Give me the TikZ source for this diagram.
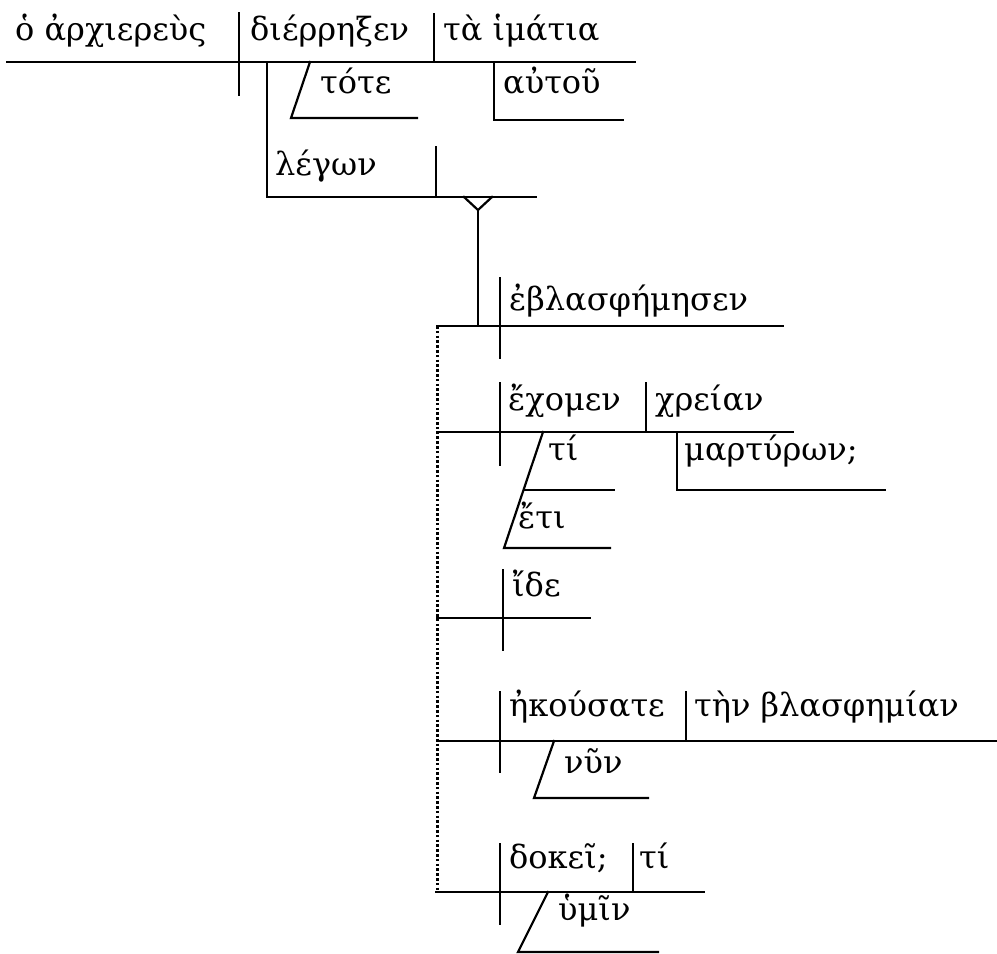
\documentclass[tikz,border=0pt]{standalone}
\usepackage{fontspec}
\setmainfont{DejaVu Serif}
\begin{document}
\begin{tikzpicture}[x=1pt,y=-1pt,
  ln/.style={line width=2.2pt, line cap=rect},
  dots/.style={line width=3pt, dash pattern=on 2.6pt off 2.2pt},
  wd/.style={anchor=base west, inner sep=0pt, font=\fontsize{32}{38}\selectfont}]
\useasboundingbox (0,0) rectangle (997,954);
% ---------- main clause ----------
\coordinate (m0) at (7,62); \coordinate (m1) at (635,62);
\coordinate (sv1) at (239,13); \coordinate (sv2) at (239,95);
\coordinate (vo1) at (434,14); \coordinate (vo2) at (434,62);
\draw[ln] (m0) -- (m1);
\draw[ln] (sv1) -- (sv2);
\draw[ln] (vo1) -- (vo2);
\node[wd] (subj) at (15,40) {ὁ ἀρχιερεὺς};
\node[wd] (verb) at (250,40) {διέρρηξεν};
\node[wd] (obj) at (443,40) {τὰ ἱμάτια};
% τότε
\coordinate (t0) at (310,62); \coordinate (t1) at (291,118); \coordinate (t2) at (417,118);
\draw[ln] (t0) -- (t1) -- (t2);
\node[wd] (tote) at (320,93) {τότε};
% αὐτοῦ
\coordinate (a0) at (494,62); \coordinate (a1) at (494,120); \coordinate (a2) at (623,120);
\draw[ln] (a0) -- (a1) -- (a2);
\node[wd] (autou) at (503,93) {αὐτοῦ};
% λέγων
\coordinate (l0) at (267,62); \coordinate (l1) at (267,197); \coordinate (l2) at (536,197);
\draw[ln] (l0) -- (l1) -- (l2);
\coordinate (ld1) at (436,147); \coordinate (ld2) at (436,197);
\draw[ln] (ld1) -- (ld2);
\node[wd] (legon) at (275,175) {λέγων};
% fork
\coordinate (f1) at (464,197); \coordinate (f2) at (492,197); \coordinate (f3) at (478,210);
\coordinate (f4) at (478,326);
\draw[ln, line join=miter] (f1) -- (f3) -- (f2);
\draw[ln] (f3) -- (f4);
% ---------- quoted clauses ----------
\coordinate (d0) at (437,326); \coordinate (d1) at (437,890);
\draw[dots] (d0) -- (d1);
% ἐβλασφήμησεν
\coordinate (e0) at (437,326); \coordinate (e1) at (783,326);
\coordinate (ed1) at (500,278); \coordinate (ed2) at (500,358);
\draw[ln] (e0) -- (e1);
\draw[ln] (ed1) -- (ed2);
\node[wd] (eblas) at (509,310) {ἐβλασφήμησεν};
% ἔχομεν
\coordinate (x0) at (437,432); \coordinate (x1) at (793,432);
\coordinate (xd1) at (500,383); \coordinate (xd2) at (500,465);
\coordinate (xo1) at (646,383); \coordinate (xo2) at (646,432);
\draw[ln] (x0) -- (x1);
\draw[ln] (xd1) -- (xd2);
\draw[ln] (xo1) -- (xo2);
\node[wd] (echomen) at (508,410) {ἔχομεν};
\node[wd] (chreian) at (655,410) {χρείαν};
\coordinate (m0b) at (677,432); \coordinate (m1b) at (677,490); \coordinate (m2b) at (885,490);
\draw[ln] (m0b) -- (m1b) -- (m2b);
\node[wd] (martyron) at (684,460) {μαρτύρων;};
\coordinate (s0) at (543,432); \coordinate (s1) at (524,490); \coordinate (s2) at (614,490);
\coordinate (s3) at (504,548); \coordinate (s4) at (610,548);
\draw[ln] (s0) -- (s3) -- (s4);
\draw[ln] (s1) -- (s2);
\node[wd] (ti1) at (548,460) {τί};
\node[wd] (eti) at (518,528) {ἔτι};
% ἴδε
\coordinate (i0) at (437,618); \coordinate (i1) at (590,618);
\coordinate (id1) at (503,570); \coordinate (id2) at (503,650);
\draw[ln] (i0) -- (i1);
\draw[ln] (id1) -- (id2);
\node[wd] (ide) at (512,596) {ἴδε};
% ἠκούσατε
\coordinate (h0) at (437,741); \coordinate (h1) at (997,741);
\coordinate (hd1) at (500,692); \coordinate (hd2) at (500,772);
\coordinate (ho1) at (686,692); \coordinate (ho2) at (686,741);
\draw[ln] (h0) -- (h1);
\draw[ln] (hd1) -- (hd2);
\draw[ln] (ho1) -- (ho2);
\node[wd] (ekousate) at (509,716) {ἠκούσατε};
\node[wd] (blasph) at (694,716) {τὴν βλασφημίαν};
\coordinate (n0) at (554,741); \coordinate (n1) at (534,798); \coordinate (n2) at (648,798);
\draw[ln] (n0) -- (n1) -- (n2);
\node[wd] (nyn) at (564,773) {νῦν};
% δοκεῖ
\coordinate (k0) at (436,892); \coordinate (k1) at (704,892);
\coordinate (kd1) at (500,844); \coordinate (kd2) at (500,924);
\coordinate (ko1) at (633,844); \coordinate (ko2) at (633,892);
\draw[ln] (k0) -- (k1);
\draw[ln] (kd1) -- (kd2);
\draw[ln] (ko1) -- (ko2);
\node[wd] (dokei) at (509,868) {δοκεῖ;};
\node[wd] (ti2) at (639,868) {τί};
\coordinate (u0) at (548,892); \coordinate (u1) at (518,952); \coordinate (u2) at (658,952);
\draw[ln] (u0) -- (u1) -- (u2);
\node[wd] (hymin) at (558,920) {ὑμῖν};
\end{tikzpicture}
\end{document}
